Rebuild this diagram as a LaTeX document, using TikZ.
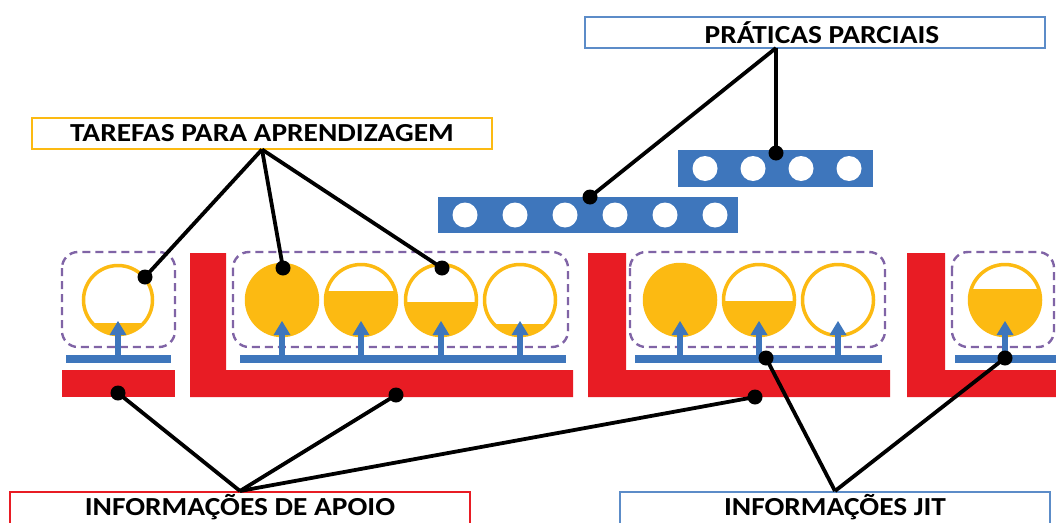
\documentclass[tikz,border=0pt]{standalone}
\usepackage{fontspec}
\usepackage{graphicx}
\setmainfont{Carlito}
\usetikzlibrary{arrows.meta}

\definecolor{barred}{RGB}{232,28,36}
\definecolor{tgold}{RGB}{252,186,18}
\definecolor{tblue}{RGB}{62,118,188}
\definecolor{lblue}{RGB}{92,140,200}
\definecolor{dpurple}{RGB}{128,100,166}

% tank: x, y, radius, filled fraction (from the bottom)
\newcommand\drawtank[4]{%
  \begin{scope}
    \clip (#1,#2) circle (#3);
    \fill[tgold] ({#1-#3},{#2+#3-2*#3*#4}) rectangle ({#1+#3},{#2+#3});
  \end{scope}
  \draw[tgold, line width=3.5pt] (#1,#2) circle (#3);}

% practice bar: left, top, right, bottom, list of circle centres
\newcommand\practicebar[5]{%
  \fill[tblue] (#1,#2) rectangle (#3,#4);
  \foreach \cx in {#5} {\fill[white] (\cx,{(#2+#4)/2}) circle (12.5);}}

% support arrow: x of the shaft
\newcommand\supportarrow[1]{%
  \fill[tblue] ({#1-3.2},357) rectangle ({#1+3.2},333);
  \fill[tblue] ({#1-8.5},335) -- (#1,321) -- ({#1+8.5},335) -- cycle;}

\tikzset{
  tag/.style={draw, line width=2pt, fill=white, inner sep=0pt,
    minimum height=31pt, font=\bfseries\fontsize{26}{26}\selectfont},
  tagtext/.style={inner sep=0pt, font=\bfseries\fontsize{26}{26}\selectfont},
  conn/.style={draw=black, line width=3.8pt},
  dot/.style={circle, fill=black, inner sep=0pt, minimum size=15pt},
  group/.style={draw=dpurple, line width=2.4pt, dash pattern=on 8pt off 5pt,
    rounded corners=16pt},
  wall/.style={fill=barred},
  shelf/.style={fill=tblue}
}

\begin{document}
\begin{tikzpicture}[x=1pt,y=-1pt]
\useasboundingbox (0,0) rectangle (1056,522);
\clip (0,0) rectangle (1056,522);
\fill[white] (0,0) rectangle (1056,522);

% red supports
\fill[wall] (62,370) rectangle (175,397);
\fill[wall] (190,253) -- (226,253) -- (226,370) -- (573,370) -- (573,397) -- (190,397) -- cycle;
\fill[wall] (588,253) -- (626,253) -- (626,370) -- (890,370) -- (890,397) -- (588,397) -- cycle;
\fill[wall] (907,253) -- (945,253) -- (945,370) -- (1070,370) -- (1070,397) -- (907,397) -- cycle;

% blue shelves
\fill[shelf] (66,355) rectangle (171,363);
\fill[shelf] (240,355) rectangle (566,363);
\fill[shelf] (635,355) rectangle (882,363);
\fill[shelf] (955,355) rectangle (1070,363);

% dashed task groups
\draw[group] (62,252) rectangle (175,347);
\draw[group] (233,252) rectangle (568,347);
\draw[group] (630,252) rectangle (885,347);
\draw[group] (952,252) rectangle (1054,347);

% tanks
\drawtank{118}{300}{34.5}{0.16}
\drawtank{282}{300}{35.5}{1}
\drawtank{361}{300}{35.5}{0.62}
\drawtank{441}{300}{35.5}{0.47}
\drawtank{520}{300}{35.5}{0.16}
\drawtank{680}{300}{35.5}{1}
\drawtank{759}{300}{35.5}{0.48}
\drawtank{838}{300}{35.5}{0}
\drawtank{1005}{300}{35.5}{0.65}

% support arrows
\foreach \ax in {118,282,361,441,520,680,759,838,1005} {\supportarrow{\ax}}

% part-task practice bars
\practicebar{438}{197}{738}{233}{465,515,565,615,665,715}
\practicebar{678}{150}{873}{187}{705,753,801,849}

% captions
\node[tag, draw=tgold, minimum width=460pt] (tar) at (262,133)
  {\scalebox{1.13}[1]{TAREFAS PARA APRENDIZAGEM}};
\node[tag, draw=lblue, minimum width=460pt] (pp) at (815,32.5)
  {\hspace*{14pt}\scalebox{1.13}[1]{PRÁTICAS PARCIAIS}};
\node[tag, draw=barred, minimum width=460pt, minimum height=40pt] (apobox) at (240,512) {};
\node[tagtext, anchor=base] (apo) at (240,515)
  {\scalebox{1.13}[1]{INFORMAÇÕES DE APOIO}};
\node[tag, draw=lblue, minimum width=430pt, minimum height=40pt] (jitbox) at (835,512) {};
\node[tagtext, anchor=base] (jit) at (835,515)
  {\scalebox{1.13}[1]{INFORMAÇÕES JIT}};

\coordinate (ppfoot) at (776,48);

% connector ends
\node[dot] (t1) at (145,277) {};
\node[dot] (t2) at (283,268) {};
\node[dot] (t3) at (442,268) {};
\node[dot] (p1) at (590,197) {};
\node[dot] (p2) at (776,153) {};
\node[dot] (a1) at (118,393) {};
\node[dot] (a2) at (396,395) {};
\node[dot] (a3) at (755,397) {};
\node[dot] (j1) at (766,358) {};
\node[dot] (j2) at (1005,358) {};

% connectors
\draw[conn] (tar.south) -- (t1.center);
\draw[conn] (tar.south) -- (t2.center);
\draw[conn] (tar.south) -- (t3.center);
\draw[conn] (ppfoot) -- (p1.center);
\draw[conn] (ppfoot) -- (p2.center);
\draw[conn] (apobox.north) -- (a1.center);
\draw[conn] (apobox.north) -- (a2.center);
\draw[conn] (apobox.north) -- (a3.center);
\draw[conn] (jitbox.north) -- (j1.center);
\draw[conn] (jitbox.north) -- (j2.center);
\end{tikzpicture}
\end{document}
